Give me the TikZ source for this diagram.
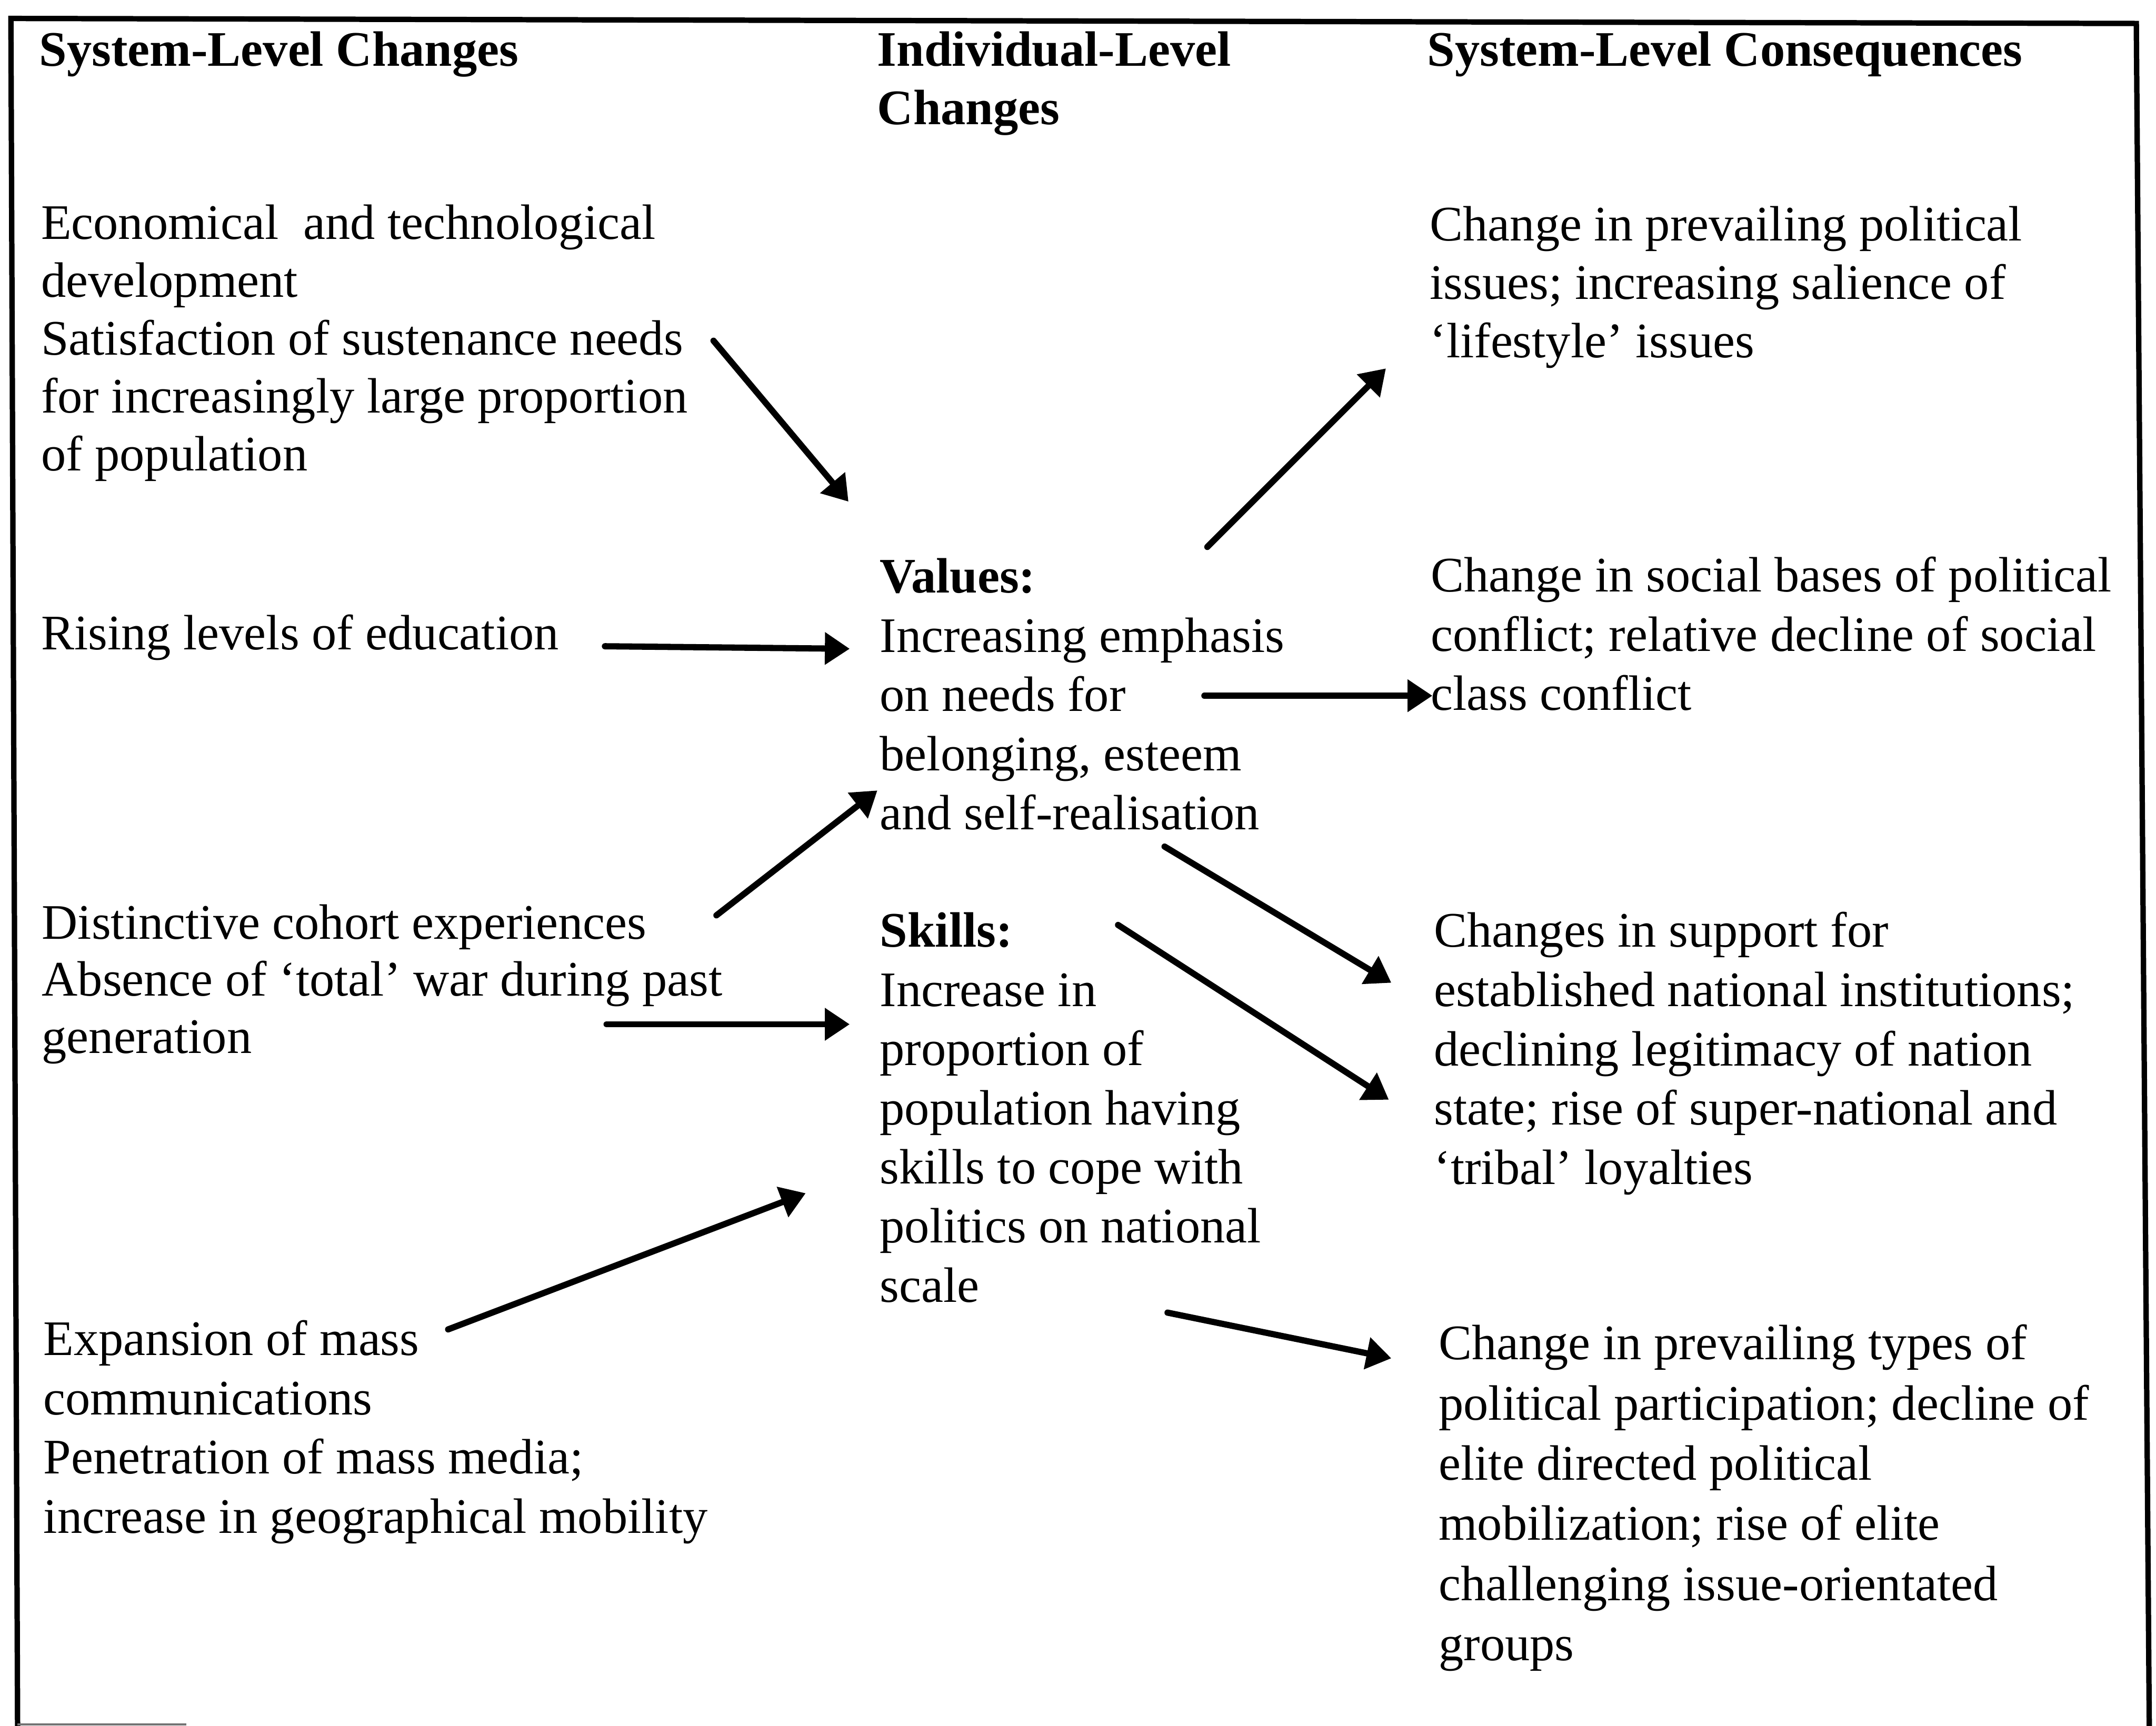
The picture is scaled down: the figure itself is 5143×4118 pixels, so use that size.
\documentclass[tikz,border=0pt]{standalone}
\usepackage{fontspec}
\setmainfont{Liberation Serif}
\usetikzlibrary{arrows.meta}

% a block of manually broken lines, first baseline at the node's base
\newcommand\blk[2][14.1pt]{\parbox[t]{215pt}{\fontsize{12pt}{#1}\selectfont\raggedright #2}}

\begin{document}
\begin{tikzpicture}[
  x=0.10118pt, y=-0.10118pt,
  txt/.style={anchor=base west, inner sep=0pt, outer sep=0pt},
  hd/.style={txt, font=\bfseries},
  flow/.style={line width=1.5pt, line cap=round,
    -{Triangle[length=6pt,width=7.5pt]}},
  frame/.style={line width=1.3pt, line join=miter}
]
\useasboundingbox (0,0) rectangle (5143,4118);

% outer frame
\draw[frame] (42,4130) -- (26,44) -- (5096,56) -- (5127,4130);
\draw[line width=0.5pt, black!55] (42,4115) -- (445,4115);

% column headings
\node[hd] (h1) at (94,158)   {\blk{System-Level Changes}};
\node[hd] (h2) at (2093,158) {\blk[14.06pt]{Individual-Level\\Changes}};
\node[hd] (h3) at (3405,158) {\blk{System-Level Consequences}};

% system-level changes
\node[txt] (econ) at (98,571) {\blk[13.96pt]{Economical\ \ and technological\\development\\Satisfaction of sustenance needs\\for increasingly large proportion\\of population}};
\node[txt] (educ) at (98,1550) {\blk{Rising levels of education}};
\node[txt] (cohort) at (100,2240) {\blk[13.8pt]{Distinctive cohort experiences\\Absence of ‘total’ war during past\\generation}};
\node[txt] (media) at (104,3234) {\blk[14.3pt]{Expansion of mass\\communications\\Penetration of mass media;\\increase in geographical mobility}};

% individual-level changes
\node[txt] (values) at (2099,1415) {\blk[14.29pt]{\textbf{Values:}\\Increasing emphasis\\on needs for\\belonging, esteem\\and self-realisation}};
\node[txt] (skills) at (2099,2260) {\blk[14.28pt]{\textbf{Skills:}\\Increase in\\proportion of\\population having\\skills to cope with\\politics on national\\scale}};

% system-level consequences
\node[txt] (issues) at (3411,575) {\blk[14.06pt]{Change in prevailing political\\issues; increasing salience of\\‘lifestyle’ issues}};
\node[txt] (cleav) at (3413,1412) {\blk[14.3pt]{Change in social bases of political\\conflict; relative decline of social\\class conflict}};
\node[txt] (support) at (3421,2260) {\blk[14.3pt]{Changes in support for\\established national institutions;\\declining legitimacy of nation\\state; rise of super-national and\\‘tribal’ loyalties}};
\node[txt] (partic) at (3432,3244) {\blk[14.53pt]{Change in prevailing types of\\political participation; decline of\\elite directed political\\mobilization; rise of elite\\challenging issue-orientated\\groups}};

% connector ends
\coordinate (econ-out)    at (1702,813);
\coordinate (values-in1)  at (2024,1197);
\coordinate (educ-out)    at (1443,1542);
\coordinate (values-in2)  at (2027,1548);
\coordinate (cohort-out)  at (1709,2184);
\coordinate (values-in3)  at (2093,1886);
\coordinate (war-out)     at (1447,2444);
\coordinate (skills-in1)  at (2027,2444);
\coordinate (media-out)   at (1069,3172);
\coordinate (skills-in2)  at (1922,2847);
\coordinate (values-out1) at (2880,1305);
\coordinate (issues-in)   at (3306,879);
\coordinate (values-out2) at (2873,1660);
\coordinate (cleav-in)    at (3417,1660);
\coordinate (values-out3) at (2778,2020);
\coordinate (support-in1) at (3319,2345);
\coordinate (skills-out1) at (2667,2207);
\coordinate (support-in2) at (3313,2624);
\coordinate (skills-out2) at (2785,3132);
\coordinate (partic-in)   at (3319,3241);

% arrows
\draw[flow] (econ-out)    -- (values-in1);
\draw[flow] (educ-out)    -- (values-in2);
\draw[flow] (cohort-out)  -- (values-in3);
\draw[flow] (war-out)     -- (skills-in1);
\draw[flow] (media-out)   -- (skills-in2);
\draw[flow] (values-out1) -- (issues-in);
\draw[flow] (values-out2) -- (cleav-in);
\draw[flow] (values-out3) -- (support-in1);
\draw[flow] (skills-out1) -- (support-in2);
\draw[flow] (skills-out2) -- (partic-in);
\end{tikzpicture}
\end{document}
